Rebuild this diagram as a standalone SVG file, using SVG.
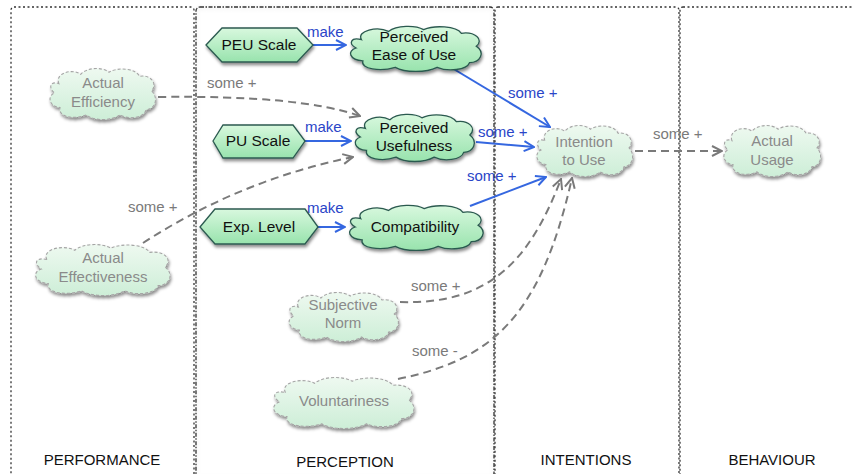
<svg xmlns="http://www.w3.org/2000/svg" xmlns:xlink="http://www.w3.org/1999/xlink" width="854" height="474" viewBox="0 0 854 474">
  <defs>
    <style>
      .lane { fill: none; stroke: #333; stroke-width: 1.3; stroke-dasharray: 2 2.5; }
      .lane-mid { fill: none; stroke: #333; stroke-width: 1.3; stroke-dasharray: 4 1.5 1.5 1.5; }
      .lane-label { font-family: "Liberation Sans", Arial, sans-serif; font-size: 15px; fill: #111; text-anchor: middle; }
      .node-text { font-family: "Liberation Sans", Arial, sans-serif; font-size: 15.5px; fill: #111; text-anchor: middle; }
      .faded-text { font-family: "Liberation Sans", Arial, sans-serif; font-size: 15px; fill: #8a8a8a; text-anchor: middle; }
      .strong { fill: url(#gStrong); stroke: #2c5a50; stroke-width: 1.3; }
      .faded { fill: url(#gFaded); stroke: #a5a5a5; stroke-width: 1.1; stroke-dasharray: 3 2; }
      .shadow { filter: url(#shadow); }
      .blue { fill: none; stroke: #3567e0; stroke-width: 2; }
      .grey { fill: none; stroke: #7a7a7a; stroke-width: 2; stroke-dasharray: 8 5; }
      .lbl-blue { font-family: "Liberation Sans", Arial, sans-serif; font-size: 15px; fill: #2a45c8; }
      .lbl-grey { font-family: "Liberation Sans", Arial, sans-serif; font-size: 15px; fill: #7a7a7a; }
    </style>
    <linearGradient id="gStrong" x1="0" y1="0" x2="0" y2="1">
      <stop offset="0" stop-color="#d8f8de"/>
      <stop offset="1" stop-color="#98e3ad"/>
    </linearGradient>
    <linearGradient id="gFaded" x1="0" y1="0" x2="0" y2="1">
      <stop offset="0" stop-color="#eef9f0"/>
      <stop offset="1" stop-color="#cdeed7"/>
    </linearGradient>
    <filter id="shadow" x="-10%" y="-10%" width="125%" height="135%">
      <feDropShadow dx="1" dy="2.5" stdDeviation="1.6" flood-color="#000" flood-opacity="0.45"/>
    </filter>
    <filter id="laneShadow" x="-5%" y="-5%" width="110%" height="110%">
      <feDropShadow dx="0" dy="1" stdDeviation="2" flood-color="#000" flood-opacity="0.12"/>
    </filter>
    <!-- generic cloud outline, stretched per node -->
    <symbol id="cloud" viewBox="0 0 100 50" preserveAspectRatio="none" overflow="visible">
      <path vector-effect="non-scaling-stroke" d="M10,16 C6,6 22,1 30,7 C36,0 50,0 56,5 C64,0 80,1 84,9 C94,7 101,16 95,23 C102,30 98,41 90,41 C88,49 74,51 66,46 C58,52 42,52 35,46 C24,51 9,48 11,39 C1,38 -1,28 6,25 C0,20 2,13 10,16 Z"/>
    </symbol>
    <marker id="arrBlue" viewBox="0 0 12 12" refX="11" refY="6" markerWidth="12" markerHeight="12" markerUnits="userSpaceOnUse" orient="auto">
      <path d="M1,1 L11,6 L1,11" fill="none" stroke="#3567e0" stroke-width="2"/>
    </marker>
    <marker id="arrGrey" viewBox="0 0 12 12" refX="11" refY="6" markerWidth="12" markerHeight="12" markerUnits="userSpaceOnUse" orient="auto">
      <path d="M1,1 L11,6 L1,11" fill="none" stroke="#7a7a7a" stroke-width="2"/>
    </marker>
  </defs>

  <rect width="854" height="474" fill="#fff"/>

  <!-- swimlanes -->
  <g id="lanes">
    <rect class="lane" x="11" y="7" width="183" height="470" rx="3"/>
    <rect class="lane-mid" x="196" y="7" width="298" height="470" rx="4" filter="url(#laneShadow)"/>
    <rect class="lane" x="495" y="7" width="184" height="470" rx="3"/>
    <rect class="lane" x="680" y="7" width="184" height="470" rx="3"/>
    <text class="lane-label" x="102" y="465">PERFORMANCE</text>
    <text class="lane-label" x="345" y="467">PERCEPTION</text>
    <text class="lane-label" x="586" y="465">INTENTIONS</text>
    <text class="lane-label" x="772" y="465">BEHAVIOUR</text>
  </g>

  <!-- connectors -->
  <g id="connectors">
    <line class="blue" x1="313" y1="45" x2="346" y2="45" marker-end="url(#arrBlue)"/>
    <line class="blue" x1="305" y1="141" x2="351" y2="141" marker-end="url(#arrBlue)"/>
    <line class="blue" x1="318" y1="227" x2="345" y2="227" marker-end="url(#arrBlue)"/>
    <line class="blue" x1="452" y1="68" x2="550" y2="127" marker-end="url(#arrBlue)"/>
    <line class="blue" x1="476" y1="142" x2="534" y2="147" marker-end="url(#arrBlue)"/>
    <line class="blue" x1="470" y1="206" x2="546" y2="177" marker-end="url(#arrBlue)"/>
    <path class="grey" d="M158,97 Q300,95 360,116" marker-end="url(#arrGrey)"/>
    <path class="grey" d="M143,243 Q240,180 353,157" marker-end="url(#arrGrey)"/>
    <path class="grey" d="M400,302 C490,305 530,260 561,179" marker-end="url(#arrGrey)"/>
    <path class="grey" d="M398,379 C490,360 540,320 572,178" marker-end="url(#arrGrey)"/>
    <line class="grey" x1="635" y1="151" x2="722" y2="151" marker-end="url(#arrGrey)"/>

    <text class="lbl-blue" x="307" y="37">make</text>
    <text class="lbl-blue" x="305" y="132">make</text>
    <text class="lbl-blue" x="307" y="213">make</text>
    <text class="lbl-blue" x="508" y="98">some +</text>
    <text class="lbl-blue" x="478" y="137">some +</text>
    <text class="lbl-blue" x="467" y="181">some +</text>
    <text class="lbl-grey" x="207" y="88">some +</text>
    <text class="lbl-grey" x="128" y="212">some +</text>
    <text class="lbl-grey" x="653" y="139">some +</text>
    <text class="lbl-grey" x="411" y="291">some +</text>
    <text class="lbl-grey" x="412" y="356">some -</text>
  </g>

  <!-- nodes -->
  <g id="peu-scale">
    <polygon class="strong shadow" points="206,45 222,28 297,28 313,45 297,62 222,62"/>
    <text class="node-text" x="259" y="50">PEU Scale</text>
  </g>
  <g id="pu-scale">
    <polygon class="strong shadow" points="213,141 223,125 293,125 305,141 293,158 223,158"/>
    <text class="node-text" x="258" y="146">PU Scale</text>
  </g>
  <g id="exp-level">
    <polygon class="strong shadow" points="200,227 215,209 305,209 318,227 305,244 215,244"/>
    <text class="node-text" x="259" y="232">Exp. Level</text>
  </g>

  <g id="perceived-ease-of-use">
    <use xlink:href="#cloud" href="#cloud" class="strong shadow" x="348" y="25" width="135" height="46"/>
    <text class="node-text" x="414" y="42">Perceived</text>
    <text class="node-text" x="414" y="60">Ease of Use</text>
  </g>
  <g id="perceived-usefulness">
    <use xlink:href="#cloud" href="#cloud" class="strong shadow" x="353" y="113" width="123" height="48"/>
    <text class="node-text" x="414" y="133">Perceived</text>
    <text class="node-text" x="414" y="151">Usefulness</text>
  </g>
  <g id="compatibility">
    <use xlink:href="#cloud" href="#cloud" class="strong shadow" x="347" y="204" width="138" height="46"/>
    <text class="node-text" x="415" y="232">Compatibility</text>
  </g>

  <g id="actual-efficiency">
    <use xlink:href="#cloud" href="#cloud" class="faded shadow" x="48" y="67" width="109" height="52"/>
    <text class="faded-text" x="103" y="88">Actual</text>
    <text class="faded-text" x="103" y="107">Efficiency</text>
  </g>
  <g id="actual-effectiveness">
    <use xlink:href="#cloud" href="#cloud" class="faded shadow" x="33" y="243" width="139" height="52"/>
    <text class="faded-text" x="103" y="263">Actual</text>
    <text class="faded-text" x="103" y="282">Effectiveness</text>
  </g>
  <g id="subjective-norm">
    <use xlink:href="#cloud" href="#cloud" class="faded shadow" x="287" y="291" width="113" height="50"/>
    <text class="faded-text" x="343" y="310">Subjective</text>
    <text class="faded-text" x="343" y="328">Norm</text>
  </g>
  <g id="voluntariness">
    <use xlink:href="#cloud" href="#cloud" class="faded shadow" x="271" y="376" width="145" height="52"/>
    <text class="faded-text" x="344" y="406">Voluntariness</text>
  </g>
  <g id="intention-to-use">
    <use xlink:href="#cloud" href="#cloud" class="faded shadow" x="535" y="124" width="99" height="52"/>
    <text class="faded-text" x="584" y="147">Intention</text>
    <text class="faded-text" x="584" y="165">to Use</text>
  </g>
  <g id="actual-usage">
    <use xlink:href="#cloud" href="#cloud" class="faded shadow" x="722" y="124" width="100" height="52"/>
    <text class="faded-text" x="772" y="146">Actual</text>
    <text class="faded-text" x="772" y="165">Usage</text>
  </g>
</svg>
